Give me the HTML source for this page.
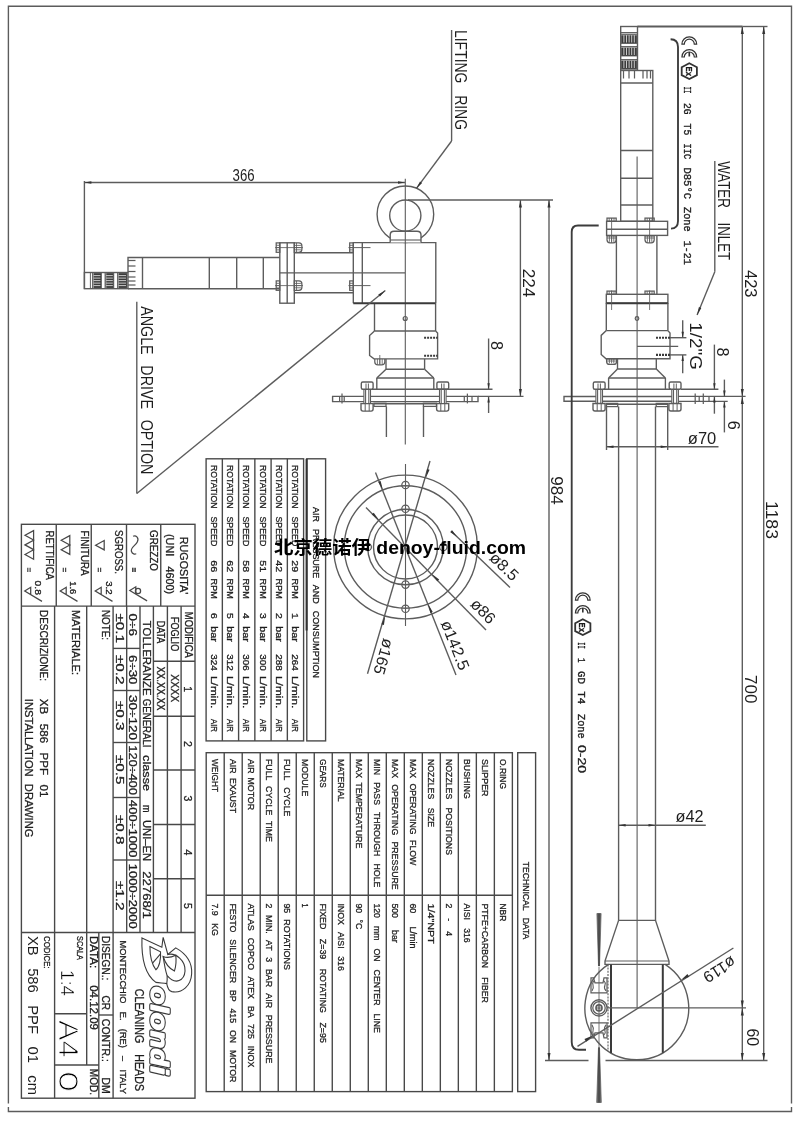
<!DOCTYPE html>
<html><head><meta charset="utf-8"><title>XB 586 PPF 01</title>
<style>
html,body{margin:0;padding:0;background:#fff}
svg{display:block;filter:grayscale(1)}
text{font-family:"Liberation Sans",sans-serif;fill:#1e1e1e;stroke:none}
</style></head><body>
<svg width="800" height="1132" viewBox="0 0 800 1132" fill="none" stroke="#5c5c5c" stroke-width="1.38">
<rect x="0" y="0" width="800" height="1132" fill="#fff" stroke="none"/>
<path d="M8.4 1103.5L8.4 6.2L791.5 6.2L791.5 1103.5"/>
<path d="M8.4 1107L8.4 1111.5L791.5 1111.5L791.5 1107"/>
<path d="M637.5 26.5L742.5 26.5" stroke-width="1.79"/>
<path d="M742.5 26.5L767.5 26.5"/>
<rect x="620.7" y="26.5" width="16.8" height="43.7"/>
<rect x="621.3" y="34" width="15.6" height="9.5" stroke-width="0.83" fill="#3c3c3c"/>
<path d="M623.9 35L623.9 42.5" stroke-width="0.97" stroke="#cdcdcd"/>
<path d="M626.5 35L626.5 42.5" stroke-width="0.97" stroke="#cdcdcd"/>
<path d="M629.1 35L629.1 42.5" stroke-width="0.97" stroke="#cdcdcd"/>
<path d="M631.7 35L631.7 42.5" stroke-width="0.97" stroke="#cdcdcd"/>
<path d="M634.3 35L634.3 42.5" stroke-width="0.97" stroke="#cdcdcd"/>
<path d="M621.3 35L636.9 35" stroke-width="0.69" stroke="#bbb"/>
<rect x="621.3" y="46.5" width="15.6" height="9.5" stroke-width="0.83" fill="#3c3c3c"/>
<path d="M623.9 47.5L623.9 55" stroke-width="0.97" stroke="#cdcdcd"/>
<path d="M626.5 47.5L626.5 55" stroke-width="0.97" stroke="#cdcdcd"/>
<path d="M629.1 47.5L629.1 55" stroke-width="0.97" stroke="#cdcdcd"/>
<path d="M631.7 47.5L631.7 55" stroke-width="0.97" stroke="#cdcdcd"/>
<path d="M634.3 47.5L634.3 55" stroke-width="0.97" stroke="#cdcdcd"/>
<path d="M621.3 47.5L636.9 47.5" stroke-width="0.69" stroke="#bbb"/>
<rect x="621.3" y="59.5" width="15.6" height="9.5" stroke-width="0.83" fill="#3c3c3c"/>
<path d="M623.9 60.5L623.9 68" stroke-width="0.97" stroke="#cdcdcd"/>
<path d="M626.5 60.5L626.5 68" stroke-width="0.97" stroke="#cdcdcd"/>
<path d="M629.1 60.5L629.1 68" stroke-width="0.97" stroke="#cdcdcd"/>
<path d="M631.7 60.5L631.7 68" stroke-width="0.97" stroke="#cdcdcd"/>
<path d="M634.3 60.5L634.3 68" stroke-width="0.97" stroke="#cdcdcd"/>
<path d="M621.3 60.5L636.9 60.5" stroke-width="0.69" stroke="#bbb"/>
<path d="M620.7 32.5L637.5 32.5" stroke-width="0.97"/>
<rect x="620.7" y="70.5" width="32.1" height="150.8"/>
<path d="M620.7 83L652.8 83"/>
<path d="M623.5 70.5L623.5 78.5" stroke-width="1.24"/>
<path d="M629 70.5L629 78.5" stroke-width="1.24"/>
<path d="M634.5 70.5L634.5 78.5" stroke-width="1.24"/>
<path d="M643 70.5L643 78.5" stroke-width="1.24"/>
<path d="M647 70.5L647 78.5" stroke-width="1.24"/>
<path d="M650.5 70.5L650.5 78.5" stroke-width="1.24"/>
<path d="M620.7 150.5L652.8 150.5"/>
<path d="M620.7 178.2L652.8 178.2"/>
<path d="M620.7 205L652.8 205"/>
<path d="M637.1 156.5L637.1 1007.8" stroke-width="1.1"/>
<rect x="606.6" y="221.3" width="61" height="14.1"/>
<path d="M606.6 229.2L667.6 229.2"/>
<rect x="607" y="218.1" width="9.2" height="3.2" stroke-width="1.24"/>
<path d="M609.2 218.1L609.2 221.3" stroke-width="0.83"/>
<path d="M611.6 218.1L611.6 221.3" stroke-width="0.83"/>
<path d="M614 218.1L614 221.3" stroke-width="0.83"/>
<path d="M607 235.8L607 239.8Q607 242.8 610 242.8L613.2 242.8Q616.2 242.8 616.2 239.8L616.2 235.8Z" stroke-width="1.24"/>
<path d="M609.4 235.8L609.4 241.8" stroke-width="0.83"/>
<path d="M611.6 235.8L611.6 241.8" stroke-width="0.83"/>
<path d="M613.8 235.8L613.8 241.8" stroke-width="0.83"/>
<path d="M607 238L616.2 238" stroke-width="0.83"/>
<path d="M611.6 218L611.6 243" stroke-width="0.83"/>
<rect x="645" y="218.1" width="9.2" height="3.2" stroke-width="1.24"/>
<path d="M647.2 218.1L647.2 221.3" stroke-width="0.83"/>
<path d="M649.6 218.1L649.6 221.3" stroke-width="0.83"/>
<path d="M652 218.1L652 221.3" stroke-width="0.83"/>
<path d="M645 235.8L645 239.8Q645 242.8 648 242.8L651.2 242.8Q654.2 242.8 654.2 239.8L654.2 235.8Z" stroke-width="1.24"/>
<path d="M647.4 235.8L647.4 241.8" stroke-width="0.83"/>
<path d="M649.6 235.8L649.6 241.8" stroke-width="0.83"/>
<path d="M651.8 235.8L651.8 241.8" stroke-width="0.83"/>
<path d="M645 238L654.2 238" stroke-width="0.83"/>
<path d="M649.6 218L649.6 243" stroke-width="0.83"/>
<path d="M616.4 235.4L616.4 294.4"/>
<path d="M656.9 235.4L656.9 294.4"/>
<rect x="606.3" y="294.3" width="61.6" height="9"/>
<path d="M606.3 303.3L667.9 303.3" stroke-width="2.07" stroke="#3a3a3a"/>
<rect x="607" y="291.1" width="9.2" height="3.2" stroke-width="1.24"/>
<path d="M609.2 291.1L609.2 294.3" stroke-width="0.83"/>
<path d="M611.6 291.1L611.6 294.3" stroke-width="0.83"/>
<path d="M614 291.1L614 294.3" stroke-width="0.83"/>
<path d="M611.6 290.5L611.6 310" stroke-width="0.83"/>
<rect x="645" y="291.1" width="9.2" height="3.2" stroke-width="1.24"/>
<path d="M647.2 291.1L647.2 294.3" stroke-width="0.83"/>
<path d="M649.6 291.1L649.6 294.3" stroke-width="0.83"/>
<path d="M652 291.1L652 294.3" stroke-width="0.83"/>
<path d="M649.6 290.5L649.6 310" stroke-width="0.83"/>
<path d="M606.3 303.3L606.3 330.6"/>
<path d="M667.9 303.3L667.9 330.6"/>
<path d="M606.3 330.6L667.9 330.6"/>
<circle cx="637" cy="318.5" r="1.8" stroke-width="1.24"/>
<path d="M606.3 330.6L601.2 335.4L601.2 354.5L606 358.8L670 358.8L670 333L667.9 330.6"/>
<path d="M656 337.7L670 337.7" stroke-width="2.07" stroke="#3a3a3a" stroke-dasharray="2 1"/>
<path d="M656 354.9L670 354.9" stroke-width="2.07" stroke="#3a3a3a" stroke-dasharray="2 1"/>
<path d="M670 337.7L686.4 337.7"/>
<path d="M670 354.9L686.4 354.9"/>
<path d="M637 346.4L678.2 346.4"/>
<path d="M682.7 320.2L682.7 337.7"/>
<path d="M682.7 337.7L681.5 331.7L683.9 331.7Z" fill="#333" stroke="none"/>
<path d="M682.7 354.9L682.7 373.2"/>
<path d="M682.7 354.9L683.9 360.9L681.5 360.9Z" fill="#333" stroke="none"/>
<path d="M606.6 358.8L606.6 361.4Q606.6 364.4 609.6 364.4L613.6 364.4Q616.6 364.4 616.6 361.4L616.6 358.8Z" stroke-width="1.24"/>
<path d="M609.4 358.8L609.4 363.4" stroke-width="0.83"/>
<path d="M611.6 358.8L611.6 363.4" stroke-width="0.83"/>
<path d="M613.8 358.8L613.8 363.4" stroke-width="0.83"/>
<path d="M606.6 361L616.6 361" stroke-width="0.83"/>
<path d="M617.5 358.8L617.5 369"/>
<path d="M656.3 358.8L656.3 369"/>
<path d="M617.5 369L656.3 369"/>
<path d="M617.5 369L608.6 378"/>
<path d="M656.3 369L665.4 378"/>
<path d="M608.6 378L665.4 378"/>
<path d="M608.6 378L608.6 389.2"/>
<path d="M665.4 378L665.4 389.2"/>
<path d="M603.5 389.2L671 389.2"/>
<path d="M602.5 396.5L671.8 396.5"/>
<path d="M595.9 396.5L564 396.5L564 401.3L595.9 401.3"/>
<path d="M602.5 401.3L671.8 401.3"/>
<path d="M678.4 396.4L745.6 396.4"/>
<path d="M678.4 401.4L727.7 401.4"/>
<path d="M681 389.3L718.4 389.3"/>
<path d="M695.2 393.5L695.2 404" stroke-width="1.24"/>
<path d="M699.2 396.4L699.2 401.4" stroke-width="1.24"/>
<path d="M703.3 393.5L703.3 404" stroke-width="1.24"/>
<path d="M709 396.4L709 401.4" stroke-width="1.24"/>
<rect x="593.3" y="382" width="11.8" height="7.2" rx="1.5"/>
<path d="M595.9 389.2L595.9 403.5" stroke-width="1.1"/>
<path d="M597.6 389.2L597.6 403.5" stroke-width="1.1"/>
<path d="M600.8 389.2L600.8 403.5" stroke-width="1.1"/>
<path d="M602.5 389.2L602.5 403.5" stroke-width="1.1"/>
<path d="M598 383.5L598 389.2" stroke-width="0.97"/>
<path d="M600.4 383.5L600.4 389.2" stroke-width="0.97"/>
<path d="M593 403.5L605.1 403.5L605.1 409Q605.1 411 603.1 411L595 411Q593 411 593 409Z"/>
<path d="M597.2 403.5L597.2 411" stroke-width="0.97"/>
<path d="M601.2 403.5L601.2 411" stroke-width="0.97"/>
<rect x="669.2" y="382" width="11.8" height="7.2" rx="1.5"/>
<path d="M671.8 389.2L671.8 403.5" stroke-width="1.1"/>
<path d="M673.5 389.2L673.5 403.5" stroke-width="1.1"/>
<path d="M676.7 389.2L676.7 403.5" stroke-width="1.1"/>
<path d="M678.4 389.2L678.4 403.5" stroke-width="1.1"/>
<path d="M673.9 383.5L673.9 389.2" stroke-width="0.97"/>
<path d="M676.3 383.5L676.3 389.2" stroke-width="0.97"/>
<path d="M668.9 403.5L681 403.5L681 409Q681 411 679 411L670.9 411Q668.9 411 668.9 409Z"/>
<path d="M673.1 403.5L673.1 411" stroke-width="0.97"/>
<path d="M677.1 403.5L677.1 411" stroke-width="0.97"/>
<path d="M606.5 404.2L668 404.2"/>
<rect x="606.5" y="403.4" width="11.2" height="3.2" stroke-width="1.24"/>
<rect x="656.2" y="403.4" width="11.5" height="3.2" stroke-width="1.24"/>
<path d="M618.6 406.6L618.6 920.4"/>
<path d="M655.5 406.6L655.5 920.4"/>
<path d="M606.5 406.6L606.5 450"/>
<path d="M667.7 406.6L667.7 450"/>
<path d="M606.5 446.8L718.5 446.8"/>
<path d="M606.5 446.8L613.5 445.6L613.5 448Z" fill="#333" stroke="none"/>
<path d="M667.7 446.8L660.7 448L660.7 445.6Z" fill="#333" stroke="none"/>
<text x="687.8" y="443.8" font-size="16.2" textLength="28.5" lengthAdjust="spacingAndGlyphs">ø70</text>
<path d="M618.6 825.3L705.8 825.3"/>
<path d="M618.6 825.3L625.6 824.1L625.6 826.5Z" fill="#333" stroke="none"/>
<path d="M655.5 825.3L648.5 826.5L648.5 824.1Z" fill="#333" stroke="none"/>
<text x="675.6" y="822.4" font-size="16" textLength="28" lengthAdjust="spacingAndGlyphs">ø42</text>
<path d="M618.6 920.4L605 961L605 964.4L669 964.4L669 961L655.5 920.4L618.6 920.4"/>
<path d="M605 961L669 961" stroke-width="1.24"/>
<path d="M608.49 964.4A51.9 51.9 0 1 0 665.11 964.4"/>
<path d="M611 964.4L611 1052.93" stroke-width="2" stroke="#3a3a3a"/>
<path d="M662.8 964.4L662.8 1052.82" stroke-width="2" stroke="#3a3a3a"/>
<path d="M608 964.4L608 1051.08" stroke-width="1.1" stroke-dasharray="2 1.2"/>
<path d="M607 1007.9L746 1007.9"/>
<circle cx="599" cy="1007.9" r="8.1"/>
<circle cx="599" cy="1007.9" r="6.2" stroke-width="1.24"/>
<circle cx="599" cy="1007.9" r="3" stroke-width="1.66"/>
<circle cx="599" cy="1007.9" r="1.1" stroke-width="1.1"/>
<path d="M599 967L599 1047" stroke-width="0.83"/>
<path d="M591 992.9L607 992.9L607 977.9L604 977.9L603 982.9L601.5 982.9L596.5 982.9L595 982.9L593.5 977.9L591 977.9Z" stroke-width="1.24"/>
<path d="M592 990.9Q594 987.9 593 984.9Q592 982.9 594 980.9" stroke-width="1.1"/>
<path d="M606 990.9Q603.5 987.9 605 984.9Q606 982.9 604 980.9" stroke-width="1.1"/>
<path d="M591 1022.9L607 1022.9L607 1037.9L604 1037.9L603 1032.9L601.5 1032.9L596.5 1032.9L595 1032.9L593.5 1037.9L591 1037.9Z" stroke-width="1.24"/>
<path d="M592 1024.9Q594 1027.9 593 1030.9Q592 1032.9 594 1034.9" stroke-width="1.1"/>
<path d="M606 1024.9Q603.5 1027.9 605 1030.9Q606 1032.9 604 1034.9" stroke-width="1.1"/>
<path d="M596.9 913.5L601.1 913.5L599.5 966L598.5 966Z" stroke-width="0.69" fill="#6a6a6a" stroke="#555"/>
<path d="M599 913.5L599 966" stroke-width="0.97" stroke="#333"/>
<path d="M598.5 1047.5L599.5 1047.5L601.3 1102.5L596.7 1102.5Z" stroke-width="0.69" fill="#6a6a6a" stroke="#555"/>
<path d="M599 1047.5L599 1102.5" stroke-width="0.97" stroke="#333"/>
<path d="M577.5 1046.4L733.4 948"/>
<path d="M680.69 980.2L687.45 974.04L689.15 976.75Z" fill="#333" stroke="none"/>
<path d="M592.91 1035.6L586.15 1041.76L584.45 1039.05Z" fill="#333" stroke="none"/>
<text transform="translate(731.5 955.5) rotate(147.74)" font-size="16" textLength="35" lengthAdjust="spacingAndGlyphs">ø119</text>
<path d="M670.6 39.3Q678 39.5 678 47L678 221Q678 228.5 671 228.6" stroke-width="1.86" stroke="#3c3c3c"/>
<path d="M598.7 225.5L578 225.5Q571.7 225.5 571.7 232L571.7 1042Q571.7 1049.8 579 1049.8L586 1049.8" stroke-width="1.86" stroke="#3c3c3c"/>
<path d="M545 1060.5L588.5 1060.5"/>
<path d="M605.5 1060.5L767.5 1060.5"/>
<path d="M742.3 26.5L742.3 1060.5"/>
<path d="M763.7 26.5L763.7 1060.5"/>
<path d="M742.3 26.5L743.8 34L740.8 34Z" fill="#333" stroke="none"/>
<path d="M763.7 26.5L765.2 34L762.2 34Z" fill="#333" stroke="none"/>
<path d="M742.3 396.4L740.8 388.9L743.8 388.9Z" fill="#333" stroke="none"/>
<path d="M742.3 396.4L743.8 403.9L740.8 403.9Z" fill="#333" stroke="none"/>
<path d="M742.3 1007.9L740.8 1000.4L743.8 1000.4Z" fill="#333" stroke="none"/>
<path d="M742.3 1007.9L743.8 1015.4L740.8 1015.4Z" fill="#333" stroke="none"/>
<path d="M742.3 1060.5L740.8 1053L743.8 1053Z" fill="#333" stroke="none"/>
<path d="M763.7 1060.5L762.2 1053L765.2 1053Z" fill="#333" stroke="none"/>
<text transform="translate(745.3 270) rotate(90)" font-size="16.2" textLength="27.5" lengthAdjust="spacingAndGlyphs">423</text>
<text transform="translate(766.4 501) rotate(90)" font-size="16.2" textLength="38" lengthAdjust="spacingAndGlyphs">1183</text>
<text transform="translate(745.3 675) rotate(90)" font-size="16.2" textLength="28.4" lengthAdjust="spacingAndGlyphs">700</text>
<text transform="translate(746.6 1028.6) rotate(90)" font-size="16.2" textLength="17.5" lengthAdjust="spacingAndGlyphs">60</text>
<path d="M714.4 344.6L714.4 389.3"/>
<path d="M714.4 389.3L713.2 383.3L715.6 383.3Z" fill="#333" stroke="none"/>
<path d="M714.4 396.4L714.4 413.7"/>
<path d="M714.4 396.4L715.6 402.4L713.2 402.4Z" fill="#333" stroke="none"/>
<text transform="translate(717 347.5) rotate(90)" font-size="16.2" textLength="9" lengthAdjust="spacingAndGlyphs">8</text>
<path d="M724.4 379.6L724.4 396.4"/>
<path d="M724.4 396.4L723.2 390.4L725.6 390.4Z" fill="#333" stroke="none"/>
<path d="M724.4 401.4L724.4 432.4"/>
<path d="M724.4 401.4L725.6 407.4L723.2 407.4Z" fill="#333" stroke="none"/>
<text transform="translate(727.8 420.8) rotate(90)" font-size="16.2" textLength="9" lengthAdjust="spacingAndGlyphs">6</text>
<text transform="translate(690 322.3) rotate(90)" font-size="16" textLength="47.5" lengthAdjust="spacingAndGlyphs">1/2"G</text>
<path d="M714.8 161L714.8 271.7"/>
<path d="M714.8 271.7L697.1 315"/>
<path d="M697.1 315L698.92 307.1L701.33 308.09Z" fill="#333" stroke="none"/>
<text transform="translate(718 161.2) rotate(90)" font-size="16.4" word-spacing="13.5" textLength="99" lengthAdjust="spacingAndGlyphs">WATER INLET</text>
<path d="M681.9 44.2A7.4 7.4 0 0 1 696.7 44.2L694.3 44.2A5 5 0 0 0 684.3 44.2Z" stroke-width="1.17" fill="#fff" stroke="#333"/>
<path d="M681.9 57A7.4 7.4 0 0 1 696.7 57L694.3 57A5 5 0 0 0 684.3 57Z" stroke-width="1.17" fill="#fff" stroke="#333"/>
<path d="M689.3 52L689.3 56.5" stroke-width="1.66" stroke="#333"/>
<path d="M689.3 63.3L696.9 67.25L696.9 75.15L689.3 79.1L681.7 75.15L681.7 67.25Z" stroke-width="1.79" stroke="#333"/>
<text transform="translate(685.7 66.6) rotate(90)" font-size="8.6" textLength="9.4" lengthAdjust="spacingAndGlyphs" font-weight="bold" style="stroke:#1e1e1e;stroke-width:0.3px">Ex</text>
<text transform="translate(684.3 86.5) rotate(90)" font-size="10.6" textLength="6.9" lengthAdjust="spacingAndGlyphs" style="font-family:'Liberation Mono',monospace;stroke:#1e1e1e;stroke-width:0.35px">II</text>
<text transform="translate(684.3 103) rotate(90)" font-size="10.6" textLength="11.6" lengthAdjust="spacingAndGlyphs" style="font-family:'Liberation Mono',monospace;stroke:#1e1e1e;stroke-width:0.35px">2G</text>
<text transform="translate(684.3 123.6) rotate(90)" font-size="10.6" textLength="11.6" lengthAdjust="spacingAndGlyphs" style="font-family:'Liberation Mono',monospace;stroke:#1e1e1e;stroke-width:0.35px">T5</text>
<text transform="translate(684.3 143.5) rotate(90)" font-size="10.6" textLength="15.9" lengthAdjust="spacingAndGlyphs" style="font-family:'Liberation Mono',monospace;stroke:#1e1e1e;stroke-width:0.35px">IIC</text>
<text transform="translate(684.3 167.4) rotate(90)" font-size="10.6" textLength="31.8" lengthAdjust="spacingAndGlyphs" style="font-family:'Liberation Mono',monospace;stroke:#1e1e1e;stroke-width:0.35px">D85°C</text>
<text transform="translate(684.3 207) rotate(90)" font-size="10.6" textLength="24.7" lengthAdjust="spacingAndGlyphs" style="font-family:'Liberation Mono',monospace;stroke:#1e1e1e;stroke-width:0.35px">Zone</text>
<text transform="translate(684.3 240.8) rotate(90)" font-size="10.6" textLength="23.8" lengthAdjust="spacingAndGlyphs" style="font-family:'Liberation Mono',monospace;stroke:#1e1e1e;stroke-width:0.35px">1-21</text>
<path d="M575.4 600.2A7.4 7.4 0 0 1 590.2 600.2L587.8 600.2A5 5 0 0 0 577.8 600.2Z" stroke-width="1.17" fill="#fff" stroke="#333"/>
<path d="M575.4 613A7.4 7.4 0 0 1 590.2 613L587.8 613A5 5 0 0 0 577.8 613Z" stroke-width="1.17" fill="#fff" stroke="#333"/>
<path d="M582.8 608L582.8 612.5" stroke-width="1.66" stroke="#333"/>
<path d="M582.8 619.3L590.4 623.25L590.4 631.15L582.8 635.1L575.2 631.15L575.2 623.25Z" stroke-width="1.79" stroke="#333"/>
<text transform="translate(579.2 622.6) rotate(90)" font-size="8.6" textLength="9.4" lengthAdjust="spacingAndGlyphs" font-weight="bold" style="stroke:#1e1e1e;stroke-width:0.3px">Ex</text>
<text transform="translate(577.7 642.2) rotate(90)" font-size="10.6" textLength="6.4" lengthAdjust="spacingAndGlyphs" style="font-family:'Liberation Mono',monospace;stroke:#1e1e1e;stroke-width:0.35px">II</text>
<text transform="translate(577.7 658) rotate(90)" font-size="10.6" textLength="4.6" lengthAdjust="spacingAndGlyphs" style="font-family:'Liberation Mono',monospace;stroke:#1e1e1e;stroke-width:0.35px">1</text>
<text transform="translate(577.7 671) rotate(90)" font-size="10.6" textLength="13" lengthAdjust="spacingAndGlyphs" style="font-family:'Liberation Mono',monospace;stroke:#1e1e1e;stroke-width:0.35px">GD</text>
<text transform="translate(577.7 691.3) rotate(90)" font-size="10.6" textLength="13" lengthAdjust="spacingAndGlyphs" style="font-family:'Liberation Mono',monospace;stroke:#1e1e1e;stroke-width:0.35px">T4</text>
<text transform="translate(577.7 714) rotate(90)" font-size="10.6" textLength="24.6" lengthAdjust="spacingAndGlyphs" style="font-family:'Liberation Mono',monospace;stroke:#1e1e1e;stroke-width:0.35px">Zone</text>
<text transform="translate(577.7 745) rotate(90)" font-size="10.4" textLength="28" lengthAdjust="spacingAndGlyphs" style="font-family:'Liberation Sans',sans-serif;stroke:#1e1e1e;stroke-width:0.3px">0-20</text>
<path d="M84.4 181L84.4 289"/>
<path d="M84.4 182.5L405 182.5"/>
<path d="M84.4 182.5L91.4 181.3L91.4 183.7Z" fill="#333" stroke="none"/>
<path d="M405 182.5L398 183.7L398 181.3Z" fill="#333" stroke="none"/>
<text x="232.6" y="181" font-size="16" textLength="22" lengthAdjust="spacingAndGlyphs">366</text>
<rect x="84.4" y="272.5" width="43.6" height="16.2"/>
<rect x="92.4" y="273.1" width="9" height="15" stroke-width="0.83" fill="#3c3c3c"/>
<path d="M93.4 275.6L100.4 275.6" stroke-width="0.97" stroke="#cdcdcd"/>
<path d="M93.4 278.1L100.4 278.1" stroke-width="0.97" stroke="#cdcdcd"/>
<path d="M93.4 280.6L100.4 280.6" stroke-width="0.97" stroke="#cdcdcd"/>
<path d="M93.4 283.1L100.4 283.1" stroke-width="0.97" stroke="#cdcdcd"/>
<path d="M93.4 285.6L100.4 285.6" stroke-width="0.97" stroke="#cdcdcd"/>
<path d="M93.4 273.1L93.4 288.1" stroke-width="0.69" stroke="#bbb"/>
<rect x="105" y="273.1" width="8.8" height="15" stroke-width="0.83" fill="#3c3c3c"/>
<path d="M106 275.6L112.8 275.6" stroke-width="0.97" stroke="#cdcdcd"/>
<path d="M106 278.1L112.8 278.1" stroke-width="0.97" stroke="#cdcdcd"/>
<path d="M106 280.6L112.8 280.6" stroke-width="0.97" stroke="#cdcdcd"/>
<path d="M106 283.1L112.8 283.1" stroke-width="0.97" stroke="#cdcdcd"/>
<path d="M106 285.6L112.8 285.6" stroke-width="0.97" stroke="#cdcdcd"/>
<path d="M106 273.1L106 288.1" stroke-width="0.69" stroke="#bbb"/>
<rect x="117.4" y="273.1" width="9.6" height="15" stroke-width="0.83" fill="#3c3c3c"/>
<path d="M118.4 275.6L126 275.6" stroke-width="0.97" stroke="#cdcdcd"/>
<path d="M118.4 278.1L126 278.1" stroke-width="0.97" stroke="#cdcdcd"/>
<path d="M118.4 280.6L126 280.6" stroke-width="0.97" stroke="#cdcdcd"/>
<path d="M118.4 283.1L126 283.1" stroke-width="0.97" stroke="#cdcdcd"/>
<path d="M118.4 285.6L126 285.6" stroke-width="0.97" stroke="#cdcdcd"/>
<path d="M118.4 273.1L118.4 288.1" stroke-width="0.69" stroke="#bbb"/>
<path d="M90.4 272.5L90.4 288.7" stroke-width="0.97"/>
<path d="M128 272.5L128 257.5L279.8 257.5"/>
<path d="M128 288.7L279.8 288.7"/>
<path d="M142.5 257.5L142.5 288.7"/>
<path d="M128 260.5L135.5 260.5" stroke-width="1.24"/>
<path d="M128 266L135.5 266" stroke-width="1.24"/>
<path d="M128 271.5L135.5 271.5" stroke-width="1.24"/>
<path d="M128 277L135.5 277" stroke-width="1.24"/>
<path d="M128 281L135.5 281" stroke-width="1.24"/>
<path d="M128 285L135.5 285" stroke-width="1.24"/>
<path d="M209.3 257.5L209.3 288.7"/>
<path d="M236.7 257.5L236.7 288.7"/>
<path d="M263.3 257.5L263.3 288.7"/>
<rect x="279.8" y="242.8" width="14.5" height="60.4"/>
<path d="M287.2 242.8L287.2 303.2"/>
<rect x="276.2" y="242.9" width="3.6" height="9.4" stroke-width="1.24"/>
<path d="M279.8 245.3L276.2 245.3" stroke-width="0.83"/>
<path d="M279.8 247.6L276.2 247.6" stroke-width="0.83"/>
<path d="M279.8 249.9L276.2 249.9" stroke-width="0.83"/>
<path d="M294.3 242.9L298.9 242.9Q301.9 242.9 301.9 245.9L301.9 249.3Q301.9 252.3 298.9 252.3L294.3 252.3Z" stroke-width="1.24"/>
<path d="M294.3 245.4L300.9 245.4" stroke-width="0.83"/>
<path d="M294.3 247.6L300.9 247.6" stroke-width="0.83"/>
<path d="M294.3 249.8L300.9 249.8" stroke-width="0.83"/>
<path d="M296.5 242.9L296.5 252.3" stroke-width="0.83"/>
<path d="M275 247.6L303 247.6" stroke-width="0.83"/>
<rect x="276.2" y="280.9" width="3.6" height="9.4" stroke-width="1.24"/>
<path d="M279.8 283.3L276.2 283.3" stroke-width="0.83"/>
<path d="M279.8 285.6L276.2 285.6" stroke-width="0.83"/>
<path d="M279.8 287.9L276.2 287.9" stroke-width="0.83"/>
<path d="M294.3 280.9L298.9 280.9Q301.9 280.9 301.9 283.9L301.9 287.3Q301.9 290.3 298.9 290.3L294.3 290.3Z" stroke-width="1.24"/>
<path d="M294.3 283.4L300.9 283.4" stroke-width="0.83"/>
<path d="M294.3 285.6L300.9 285.6" stroke-width="0.83"/>
<path d="M294.3 287.8L300.9 287.8" stroke-width="0.83"/>
<path d="M296.5 280.9L296.5 290.3" stroke-width="0.83"/>
<path d="M275 285.6L303 285.6" stroke-width="0.83"/>
<path d="M294.3 252.7L353.3 252.7"/>
<path d="M294.3 292.7L353.3 292.7"/>
<path d="M279.8 272.9L405 272.9"/>
<path d="M353.3 303.3L353.3 242.6L435.8 242.6L435.8 303.3"/>
<path d="M362.3 242.6L362.3 303.3"/>
<rect x="349.7" y="242.9" width="3.6" height="9.4" stroke-width="1.24"/>
<path d="M353.3 245.3L349.7 245.3" stroke-width="0.83"/>
<path d="M353.3 247.6L349.7 247.6" stroke-width="0.83"/>
<path d="M353.3 249.9L349.7 249.9" stroke-width="0.83"/>
<path d="M348.5 247.6L370.5 247.6" stroke-width="0.97"/>
<rect x="349.7" y="280.9" width="3.6" height="9.4" stroke-width="1.24"/>
<path d="M353.3 283.3L349.7 283.3" stroke-width="0.83"/>
<path d="M353.3 285.6L349.7 285.6" stroke-width="0.83"/>
<path d="M353.3 287.9L349.7 287.9" stroke-width="0.83"/>
<path d="M348.5 285.6L370.5 285.6" stroke-width="0.97"/>
<circle cx="405.4" cy="214.3" r="28.3"/>
<circle cx="405.3" cy="215.6" r="15.6"/>
<path d="M390.2 242.6L390.2 235Q390.2 231.3 394 231.3L417 231.3Q421 231.3 421 235L421 242.6" fill="#fff"/>
<path d="M390.2 240L421 240" stroke-width="1.1"/>
<path d="M405.3 178.7L405.3 444.5" stroke-width="1.1"/>
<path d="M408 200L553 200"/>
<path d="M374.5 303.3L374.5 331"/>
<path d="M435.6 303.3L435.6 331"/>
<path d="M353.3 303.3L435.6 303.3" stroke-width="2.07" stroke="#3a3a3a"/>
<circle cx="405.2" cy="318.5" r="2" stroke-width="1.24"/>
<path d="M374.5 331L435.6 331"/>
<path d="M374.5 331L369.6 335.5L369.6 355.5L374 358.9L437.6 358.9L437.6 333L435.6 331"/>
<path d="M424.1 337.8L437.6 337.8" stroke-width="2.07" stroke="#3a3a3a" stroke-dasharray="2 1"/>
<path d="M424.1 355.7L437.6 355.7" stroke-width="2.07" stroke="#3a3a3a" stroke-dasharray="2 1"/>
<path d="M374.8 358.9L374.8 362Q374.8 364.8 378 364.8L381.6 364.8Q384.8 364.8 384.8 362L384.8 358.9" stroke-width="1.24"/>
<path d="M377.4 358.9L377.4 364.2" stroke-width="0.83"/>
<path d="M379.8 358.9L379.8 364.2" stroke-width="0.83"/>
<path d="M382.2 358.9L382.2 364.2" stroke-width="0.83"/>
<path d="M379.8 355L379.8 364.8" stroke-width="0.83"/>
<path d="M386 358.9L386 369.2"/>
<path d="M424.6 358.9L424.6 369.2"/>
<path d="M386 369.2L424.6 369.2"/>
<path d="M386 369.2L376.8 378"/>
<path d="M424.6 369.2L433.8 378"/>
<path d="M376.8 378L433.8 378"/>
<path d="M376.8 378L376.8 389.3"/>
<path d="M433.8 378L433.8 389.3"/>
<path d="M372 389.3L492.5 389.3"/>
<path d="M370.5 396.4L439.5 396.4"/>
<path d="M363.9 396.4L332.6 396.4L332.6 401.6L363.9 401.6"/>
<path d="M446.1 396.4L478 396.4L478 401.6L446.1 401.6"/>
<path d="M478 396.4L523.5 396.4"/>
<path d="M370.5 401.6L439.5 401.6"/>
<path d="M339.6 396.4L339.6 401.6" stroke-width="1.24"/>
<path d="M342 393.6L342 403.4" stroke-width="1.24"/>
<path d="M344.2 396.4L344.2 401.6" stroke-width="1.24"/>
<path d="M464.3 396.4L464.3 401.6" stroke-width="1.24"/>
<path d="M467.4 393.6L467.4 403.4" stroke-width="1.24"/>
<path d="M472 396.4L472 401.6" stroke-width="1.24"/>
<rect x="361.3" y="382" width="11.8" height="7.2" rx="1.5"/>
<path d="M363.9 389.2L363.9 403.6" stroke-width="1.1"/>
<path d="M365.6 389.2L365.6 403.6" stroke-width="1.1"/>
<path d="M368.8 389.2L368.8 403.6" stroke-width="1.1"/>
<path d="M370.5 389.2L370.5 403.6" stroke-width="1.1"/>
<path d="M366 383.5L366 389.2" stroke-width="0.97"/>
<path d="M368.4 383.5L368.4 389.2" stroke-width="0.97"/>
<path d="M361 403.6L373.1 403.6L373.1 409.1Q373.1 411.1 371.1 411.1L363 411.1Q361 411.1 361 409.1Z"/>
<path d="M365.2 403.6L365.2 411.1" stroke-width="0.97"/>
<path d="M369.2 403.6L369.2 411.1" stroke-width="0.97"/>
<rect x="436.9" y="382" width="11.8" height="7.2" rx="1.5"/>
<path d="M439.5 389.2L439.5 403.6" stroke-width="1.1"/>
<path d="M441.2 389.2L441.2 403.6" stroke-width="1.1"/>
<path d="M444.4 389.2L444.4 403.6" stroke-width="1.1"/>
<path d="M446.1 389.2L446.1 403.6" stroke-width="1.1"/>
<path d="M441.6 383.5L441.6 389.2" stroke-width="0.97"/>
<path d="M444 383.5L444 389.2" stroke-width="0.97"/>
<path d="M436.6 403.6L448.7 403.6L448.7 409.1Q448.7 411.1 446.7 411.1L438.6 411.1Q436.6 411.1 436.6 409.1Z"/>
<path d="M440.8 403.6L440.8 411.1" stroke-width="0.97"/>
<path d="M444.8 403.6L444.8 411.1" stroke-width="0.97"/>
<path d="M374 403.8L436.5 403.8"/>
<rect x="374" y="403.2" width="12" height="3.2" stroke-width="1.24"/>
<rect x="423.4" y="403.2" width="13.1" height="3.2" stroke-width="1.24"/>
<path d="M386.4 406.4L386.4 437"/>
<path d="M423.5 406.4L423.5 437"/>
<path d="M488.6 338.5L488.6 389.3"/>
<path d="M488.6 389.3L487.4 383.3L489.8 383.3Z" fill="#333" stroke="none"/>
<path d="M488.6 396.4L488.6 413"/>
<path d="M488.6 396.4L489.8 402.4L487.4 402.4Z" fill="#333" stroke="none"/>
<text transform="translate(491 341) rotate(90)" font-size="16.2" textLength="9" lengthAdjust="spacingAndGlyphs">8</text>
<path d="M520.4 200L520.4 396.4"/>
<path d="M520.4 200L521.9 207.5L518.9 207.5Z" fill="#333" stroke="none"/>
<path d="M520.4 396.4L518.9 388.9L521.9 388.9Z" fill="#333" stroke="none"/>
<path d="M549 200L549 1060.5"/>
<path d="M549 200L550.5 207.5L547.5 207.5Z" fill="#333" stroke="none"/>
<path d="M549 1060.5L547.5 1053L550.5 1053Z" fill="#333" stroke="none"/>
<text transform="translate(523.2 268.7) rotate(90)" font-size="16.2" textLength="28.6" lengthAdjust="spacingAndGlyphs">224</text>
<text transform="translate(551.2 476.2) rotate(90)" font-size="16.2" textLength="28.4" lengthAdjust="spacingAndGlyphs">984</text>
<path d="M451.6 30L451.6 141"/>
<path d="M451.6 141L416.3 188.6"/>
<path d="M416.3 188.6L420.02 181.4L422.11 182.95Z" fill="#333" stroke="none"/>
<text transform="translate(454.6 30) rotate(90)" font-size="16.2" word-spacing="9.18" textLength="100" lengthAdjust="spacingAndGlyphs">LIFTING RING</text>
<path d="M136.8 301.7L136.8 493.5"/>
<path d="M136.8 493.5L385.3 290.5"/>
<path d="M385.3 290.5L379.93 296.57L378.28 294.55Z" fill="#333" stroke="none"/>
<text transform="translate(141.3 306.3) rotate(90)" font-size="16.2" word-spacing="7.69" textLength="168" lengthAdjust="spacingAndGlyphs">ANGLE DRIVE OPTION</text>
<circle cx="405.5" cy="547" r="71.9"/>
<circle cx="405.5" cy="547" r="61.2"/>
<circle cx="405.5" cy="547" r="37.8"/>
<circle cx="405.5" cy="547" r="32"/>
<path d="M405.5 464L405.5 626" stroke-width="1.1"/>
<circle cx="405.5" cy="485" r="3.7" stroke-width="1.24"/>
<circle cx="405.5" cy="508.8" r="3.7" stroke-width="1.24"/>
<circle cx="405.5" cy="584.6" r="3.7" stroke-width="1.24"/>
<circle cx="405.5" cy="608.8" r="3.7" stroke-width="1.24"/>
<circle cx="367.7" cy="547" r="3.7" stroke-width="1.24"/>
<circle cx="443.3" cy="547" r="3.7" stroke-width="1.24"/>
<path d="M430 461L367.5 673.7"/>
<path d="M425.77 478.02L427.06 469.02L429.55 469.75Z" fill="#333" stroke="none"/>
<path d="M385.23 615.98L383.94 624.98L381.45 624.25Z" fill="#333" stroke="none"/>
<text transform="translate(383.5 637.5) rotate(106.37)" font-size="16" textLength="36.5" lengthAdjust="spacingAndGlyphs">ø165</text>
<path d="M375.5 472.5L456 675"/>
<path d="M382.78 489.85L378.25 481.97L380.66 481.01Z" fill="#333" stroke="none"/>
<path d="M428.22 604.15L432.75 612.03L430.34 612.99Z" fill="#333" stroke="none"/>
<text transform="translate(440.5 623) rotate(68.32)" font-size="16" textLength="52" lengthAdjust="spacingAndGlyphs">ø142.5</text>
<path d="M366 507.5L486 630"/>
<path d="M379.05 520L371.82 514.48L373.68 512.66Z" fill="#333" stroke="none"/>
<path d="M431.95 574L439.18 579.52L437.32 581.34Z" fill="#333" stroke="none"/>
<text transform="translate(469.5 605) rotate(45.59)" font-size="16" textLength="28" lengthAdjust="spacingAndGlyphs">ø86</text>
<path d="M451 531L510 587.5"/>
<path d="M457 536.8L450.32 532.21L452.12 530.33Z" fill="#333" stroke="none"/>
<text transform="translate(488.5 559) rotate(43.76)" font-size="16" textLength="33" lengthAdjust="spacingAndGlyphs">ø8.5</text>
<g stroke="#484848">
<rect x="206.1" y="458.8" width="97.5" height="282.1"/>
<path d="M222.35 458.8L222.35 740.9"/>
<path d="M238.6 458.8L238.6 740.9"/>
<path d="M254.85 458.8L254.85 740.9"/>
<path d="M271.1 458.8L271.1 740.9"/>
<path d="M287.35 458.8L287.35 740.9"/>
<rect x="306.8" y="458.8" width="18.8" height="282.1"/>
<path d="M306.6 458.8L306.6 630.5" stroke-width="2.07" stroke="#333"/>
<text transform="translate(312.7 507) rotate(90)" font-size="9.6" word-spacing="4.93" textLength="171" lengthAdjust="spacingAndGlyphs" style="stroke:#1e1e1e;stroke-width:0.3px">AIR PRESSURE AND CONSUMPTION</text>
<text transform="translate(210.8 464.9) rotate(90)" font-size="9.8" textLength="43.7" lengthAdjust="spacingAndGlyphs" style="stroke:#1e1e1e;stroke-width:0.3px">ROTATION</text>
<text transform="translate(210.8 516.5) rotate(90)" font-size="9.8" textLength="29.8" lengthAdjust="spacingAndGlyphs" style="stroke:#1e1e1e;stroke-width:0.3px">SPEED</text>
<text transform="translate(210.8 560.3) rotate(90)" font-size="9.8" textLength="12" lengthAdjust="spacingAndGlyphs" style="stroke:#1e1e1e;stroke-width:0.3px">66</text>
<text transform="translate(210.8 578.6) rotate(90)" font-size="9.8" textLength="20.2" lengthAdjust="spacingAndGlyphs" style="stroke:#1e1e1e;stroke-width:0.3px">RPM</text>
<text transform="translate(210.8 613) rotate(90)" font-size="9.8" textLength="5.8" lengthAdjust="spacingAndGlyphs" style="stroke:#1e1e1e;stroke-width:0.3px">6</text>
<text transform="translate(210.8 626.3) rotate(90)" font-size="9.8" textLength="15.7" lengthAdjust="spacingAndGlyphs" style="stroke:#1e1e1e;stroke-width:0.3px">bar</text>
<text transform="translate(210.8 654.3) rotate(90)" font-size="9.8" textLength="16.5" lengthAdjust="spacingAndGlyphs" style="stroke:#1e1e1e;stroke-width:0.3px">324</text>
<text transform="translate(210.8 676) rotate(90)" font-size="9.8" textLength="32.4" lengthAdjust="spacingAndGlyphs" style="stroke:#1e1e1e;stroke-width:0.3px">L/min.</text>
<text transform="translate(210.8 719) rotate(90)" font-size="9.8" textLength="13" lengthAdjust="spacingAndGlyphs" style="stroke:#1e1e1e;stroke-width:0.3px">AIR</text>
<text transform="translate(227.05 464.9) rotate(90)" font-size="9.8" textLength="43.7" lengthAdjust="spacingAndGlyphs" style="stroke:#1e1e1e;stroke-width:0.3px">ROTATION</text>
<text transform="translate(227.05 516.5) rotate(90)" font-size="9.8" textLength="29.8" lengthAdjust="spacingAndGlyphs" style="stroke:#1e1e1e;stroke-width:0.3px">SPEED</text>
<text transform="translate(227.05 560.3) rotate(90)" font-size="9.8" textLength="12" lengthAdjust="spacingAndGlyphs" style="stroke:#1e1e1e;stroke-width:0.3px">62</text>
<text transform="translate(227.05 578.6) rotate(90)" font-size="9.8" textLength="20.2" lengthAdjust="spacingAndGlyphs" style="stroke:#1e1e1e;stroke-width:0.3px">RPM</text>
<text transform="translate(227.05 613) rotate(90)" font-size="9.8" textLength="5.8" lengthAdjust="spacingAndGlyphs" style="stroke:#1e1e1e;stroke-width:0.3px">5</text>
<text transform="translate(227.05 626.3) rotate(90)" font-size="9.8" textLength="15.7" lengthAdjust="spacingAndGlyphs" style="stroke:#1e1e1e;stroke-width:0.3px">bar</text>
<text transform="translate(227.05 654.3) rotate(90)" font-size="9.8" textLength="16.5" lengthAdjust="spacingAndGlyphs" style="stroke:#1e1e1e;stroke-width:0.3px">312</text>
<text transform="translate(227.05 676) rotate(90)" font-size="9.8" textLength="32.4" lengthAdjust="spacingAndGlyphs" style="stroke:#1e1e1e;stroke-width:0.3px">L/min.</text>
<text transform="translate(227.05 719) rotate(90)" font-size="9.8" textLength="13" lengthAdjust="spacingAndGlyphs" style="stroke:#1e1e1e;stroke-width:0.3px">AIR</text>
<text transform="translate(243.3 464.9) rotate(90)" font-size="9.8" textLength="43.7" lengthAdjust="spacingAndGlyphs" style="stroke:#1e1e1e;stroke-width:0.3px">ROTATION</text>
<text transform="translate(243.3 516.5) rotate(90)" font-size="9.8" textLength="29.8" lengthAdjust="spacingAndGlyphs" style="stroke:#1e1e1e;stroke-width:0.3px">SPEED</text>
<text transform="translate(243.3 560.3) rotate(90)" font-size="9.8" textLength="12" lengthAdjust="spacingAndGlyphs" style="stroke:#1e1e1e;stroke-width:0.3px">58</text>
<text transform="translate(243.3 578.6) rotate(90)" font-size="9.8" textLength="20.2" lengthAdjust="spacingAndGlyphs" style="stroke:#1e1e1e;stroke-width:0.3px">RPM</text>
<text transform="translate(243.3 613) rotate(90)" font-size="9.8" textLength="5.8" lengthAdjust="spacingAndGlyphs" style="stroke:#1e1e1e;stroke-width:0.3px">4</text>
<text transform="translate(243.3 626.3) rotate(90)" font-size="9.8" textLength="15.7" lengthAdjust="spacingAndGlyphs" style="stroke:#1e1e1e;stroke-width:0.3px">bar</text>
<text transform="translate(243.3 654.3) rotate(90)" font-size="9.8" textLength="16.5" lengthAdjust="spacingAndGlyphs" style="stroke:#1e1e1e;stroke-width:0.3px">306</text>
<text transform="translate(243.3 676) rotate(90)" font-size="9.8" textLength="32.4" lengthAdjust="spacingAndGlyphs" style="stroke:#1e1e1e;stroke-width:0.3px">L/min.</text>
<text transform="translate(243.3 719) rotate(90)" font-size="9.8" textLength="13" lengthAdjust="spacingAndGlyphs" style="stroke:#1e1e1e;stroke-width:0.3px">AIR</text>
<text transform="translate(259.55 464.9) rotate(90)" font-size="9.8" textLength="43.7" lengthAdjust="spacingAndGlyphs" style="stroke:#1e1e1e;stroke-width:0.3px">ROTATION</text>
<text transform="translate(259.55 516.5) rotate(90)" font-size="9.8" textLength="29.8" lengthAdjust="spacingAndGlyphs" style="stroke:#1e1e1e;stroke-width:0.3px">SPEED</text>
<text transform="translate(259.55 560.3) rotate(90)" font-size="9.8" textLength="12" lengthAdjust="spacingAndGlyphs" style="stroke:#1e1e1e;stroke-width:0.3px">51</text>
<text transform="translate(259.55 578.6) rotate(90)" font-size="9.8" textLength="20.2" lengthAdjust="spacingAndGlyphs" style="stroke:#1e1e1e;stroke-width:0.3px">RPM</text>
<text transform="translate(259.55 613) rotate(90)" font-size="9.8" textLength="5.8" lengthAdjust="spacingAndGlyphs" style="stroke:#1e1e1e;stroke-width:0.3px">3</text>
<text transform="translate(259.55 626.3) rotate(90)" font-size="9.8" textLength="15.7" lengthAdjust="spacingAndGlyphs" style="stroke:#1e1e1e;stroke-width:0.3px">bar</text>
<text transform="translate(259.55 654.3) rotate(90)" font-size="9.8" textLength="16.5" lengthAdjust="spacingAndGlyphs" style="stroke:#1e1e1e;stroke-width:0.3px">300</text>
<text transform="translate(259.55 676) rotate(90)" font-size="9.8" textLength="32.4" lengthAdjust="spacingAndGlyphs" style="stroke:#1e1e1e;stroke-width:0.3px">L/min.</text>
<text transform="translate(259.55 719) rotate(90)" font-size="9.8" textLength="13" lengthAdjust="spacingAndGlyphs" style="stroke:#1e1e1e;stroke-width:0.3px">AIR</text>
<text transform="translate(275.8 464.9) rotate(90)" font-size="9.8" textLength="43.7" lengthAdjust="spacingAndGlyphs" style="stroke:#1e1e1e;stroke-width:0.3px">ROTATION</text>
<text transform="translate(275.8 516.5) rotate(90)" font-size="9.8" textLength="29.8" lengthAdjust="spacingAndGlyphs" style="stroke:#1e1e1e;stroke-width:0.3px">SPEED</text>
<text transform="translate(275.8 560.3) rotate(90)" font-size="9.8" textLength="12" lengthAdjust="spacingAndGlyphs" style="stroke:#1e1e1e;stroke-width:0.3px">42</text>
<text transform="translate(275.8 578.6) rotate(90)" font-size="9.8" textLength="20.2" lengthAdjust="spacingAndGlyphs" style="stroke:#1e1e1e;stroke-width:0.3px">RPM</text>
<text transform="translate(275.8 613) rotate(90)" font-size="9.8" textLength="5.8" lengthAdjust="spacingAndGlyphs" style="stroke:#1e1e1e;stroke-width:0.3px">2</text>
<text transform="translate(275.8 626.3) rotate(90)" font-size="9.8" textLength="15.7" lengthAdjust="spacingAndGlyphs" style="stroke:#1e1e1e;stroke-width:0.3px">bar</text>
<text transform="translate(275.8 654.3) rotate(90)" font-size="9.8" textLength="16.5" lengthAdjust="spacingAndGlyphs" style="stroke:#1e1e1e;stroke-width:0.3px">288</text>
<text transform="translate(275.8 676) rotate(90)" font-size="9.8" textLength="32.4" lengthAdjust="spacingAndGlyphs" style="stroke:#1e1e1e;stroke-width:0.3px">L/min.</text>
<text transform="translate(275.8 719) rotate(90)" font-size="9.8" textLength="13" lengthAdjust="spacingAndGlyphs" style="stroke:#1e1e1e;stroke-width:0.3px">AIR</text>
<text transform="translate(292.05 464.9) rotate(90)" font-size="9.8" textLength="43.7" lengthAdjust="spacingAndGlyphs" style="stroke:#1e1e1e;stroke-width:0.3px">ROTATION</text>
<text transform="translate(292.05 516.5) rotate(90)" font-size="9.8" textLength="29.8" lengthAdjust="spacingAndGlyphs" style="stroke:#1e1e1e;stroke-width:0.3px">SPEED</text>
<text transform="translate(292.05 560.3) rotate(90)" font-size="9.8" textLength="12" lengthAdjust="spacingAndGlyphs" style="stroke:#1e1e1e;stroke-width:0.3px">29</text>
<text transform="translate(292.05 578.6) rotate(90)" font-size="9.8" textLength="20.2" lengthAdjust="spacingAndGlyphs" style="stroke:#1e1e1e;stroke-width:0.3px">RPM</text>
<text transform="translate(292.05 613) rotate(90)" font-size="9.8" textLength="5.8" lengthAdjust="spacingAndGlyphs" style="stroke:#1e1e1e;stroke-width:0.3px">1</text>
<text transform="translate(292.05 626.3) rotate(90)" font-size="9.8" textLength="15.7" lengthAdjust="spacingAndGlyphs" style="stroke:#1e1e1e;stroke-width:0.3px">bar</text>
<text transform="translate(292.05 654.3) rotate(90)" font-size="9.8" textLength="16.5" lengthAdjust="spacingAndGlyphs" style="stroke:#1e1e1e;stroke-width:0.3px">264</text>
<text transform="translate(292.05 676) rotate(90)" font-size="9.8" textLength="32.4" lengthAdjust="spacingAndGlyphs" style="stroke:#1e1e1e;stroke-width:0.3px">L/min.</text>
<text transform="translate(292.05 719) rotate(90)" font-size="9.8" textLength="13" lengthAdjust="spacingAndGlyphs" style="stroke:#1e1e1e;stroke-width:0.3px">AIR</text>
<rect x="206.2" y="752.7" width="306.17" height="338.9"/>
<path d="M224.21 752.7L224.21 1091.6"/>
<path d="M242.22 752.7L242.22 1091.6"/>
<path d="M260.23 752.7L260.23 1091.6"/>
<path d="M278.24 752.7L278.24 1091.6"/>
<path d="M296.25 752.7L296.25 1091.6"/>
<path d="M314.26 752.7L314.26 1091.6"/>
<path d="M332.27 752.7L332.27 1091.6"/>
<path d="M350.28 752.7L350.28 1091.6"/>
<path d="M368.29 752.7L368.29 1091.6"/>
<path d="M386.3 752.7L386.3 1091.6"/>
<path d="M404.31 752.7L404.31 1091.6"/>
<path d="M422.32 752.7L422.32 1091.6"/>
<path d="M440.33 752.7L440.33 1091.6"/>
<path d="M458.34 752.7L458.34 1091.6"/>
<path d="M476.35 752.7L476.35 1091.6"/>
<path d="M494.36 752.7L494.36 1091.6"/>
<path d="M206.2 895.2L512.37 895.2"/>
<rect x="517.7" y="752.7" width="17.9" height="338.9"/>
<text transform="translate(523.2 861.8) rotate(90)" font-size="9.8" word-spacing="5.72" textLength="77.5" lengthAdjust="spacingAndGlyphs" style="stroke:#1e1e1e;stroke-width:0.3px">TECHNICAL DATA</text>
<text transform="translate(211.7 759) rotate(90)" font-size="9.7" textLength="33" lengthAdjust="spacingAndGlyphs" style="stroke:#1e1e1e;stroke-width:0.3px">WEIGHT</text>
<text transform="translate(211.7 903.4) rotate(90)" font-size="9.7" word-spacing="5.92" textLength="32.5" lengthAdjust="spacingAndGlyphs" style="stroke:#1e1e1e;stroke-width:0.3px">7.9 KG</text>
<text transform="translate(229.71 759) rotate(90)" font-size="9.7" word-spacing="2.33" textLength="54" lengthAdjust="spacingAndGlyphs" style="stroke:#1e1e1e;stroke-width:0.3px">AIR EXAUST</text>
<text transform="translate(229.71 903.4) rotate(90)" font-size="9.7" word-spacing="4.96" textLength="179" lengthAdjust="spacingAndGlyphs" style="stroke:#1e1e1e;stroke-width:0.3px">FESTO SILENCER BP 415 ON MOTOR</text>
<text transform="translate(247.72 759) rotate(90)" font-size="9.7" word-spacing="1.7" textLength="51" lengthAdjust="spacingAndGlyphs" style="stroke:#1e1e1e;stroke-width:0.3px">AIR MOTOR</text>
<text transform="translate(247.72 903.4) rotate(90)" font-size="9.7" word-spacing="4.86" textLength="164" lengthAdjust="spacingAndGlyphs" style="stroke:#1e1e1e;stroke-width:0.3px">ATLAS COPCO ATEX BA 725 INOX</text>
<text transform="translate(265.73 759) rotate(90)" font-size="9.7" word-spacing="3.74" textLength="82.9" lengthAdjust="spacingAndGlyphs" style="stroke:#1e1e1e;stroke-width:0.3px">FULL CYCLE TIME</text>
<text transform="translate(265.73 903.4) rotate(90)" font-size="9.7" word-spacing="4.74" textLength="160" lengthAdjust="spacingAndGlyphs" style="stroke:#1e1e1e;stroke-width:0.3px">2 MIN. AT 3 BAR AIR PRESSURE</text>
<text transform="translate(283.74 759) rotate(90)" font-size="9.7" word-spacing="5.02" textLength="57.4" lengthAdjust="spacingAndGlyphs" style="stroke:#1e1e1e;stroke-width:0.3px">FULL CYCLE</text>
<text transform="translate(283.74 903.4) rotate(90)" font-size="9.7" word-spacing="3.82" textLength="66.5" lengthAdjust="spacingAndGlyphs" style="stroke:#1e1e1e;stroke-width:0.3px">95 ROTATIONS</text>
<text transform="translate(301.75 759) rotate(90)" font-size="9.7" textLength="37.2" lengthAdjust="spacingAndGlyphs" style="stroke:#1e1e1e;stroke-width:0.3px">MODULE</text>
<text transform="translate(301.75 903.4) rotate(90)" font-size="9.7" textLength="4" lengthAdjust="spacingAndGlyphs" style="stroke:#1e1e1e;stroke-width:0.3px">1</text>
<text transform="translate(319.76 759) rotate(90)" font-size="9.7" textLength="28.7" lengthAdjust="spacingAndGlyphs" style="stroke:#1e1e1e;stroke-width:0.3px">GEARS</text>
<text transform="translate(319.76 903.4) rotate(90)" font-size="9.7" word-spacing="7.79" textLength="139.4" lengthAdjust="spacingAndGlyphs" style="stroke:#1e1e1e;stroke-width:0.3px">FIXED Z=39 ROTATING Z=95</text>
<text transform="translate(337.77 759) rotate(90)" font-size="9.7" textLength="42.5" lengthAdjust="spacingAndGlyphs" style="stroke:#1e1e1e;stroke-width:0.3px">MATERIAL</text>
<text transform="translate(337.77 903.4) rotate(90)" font-size="9.7" word-spacing="5.69" textLength="67.5" lengthAdjust="spacingAndGlyphs" style="stroke:#1e1e1e;stroke-width:0.3px">INOX AISI 316</text>
<text transform="translate(355.78 759) rotate(90)" font-size="9.7" word-spacing="2.21" textLength="89.3" lengthAdjust="spacingAndGlyphs" style="stroke:#1e1e1e;stroke-width:0.3px">MAX TEMPERATURE</text>
<text transform="translate(355.78 903.4) rotate(90)" font-size="9.7" word-spacing="4.52" textLength="26" lengthAdjust="spacingAndGlyphs" style="stroke:#1e1e1e;stroke-width:0.3px">90 °C</text>
<text transform="translate(373.79 759) rotate(90)" font-size="9.7" word-spacing="5.16" textLength="128.4" lengthAdjust="spacingAndGlyphs" style="stroke:#1e1e1e;stroke-width:0.3px">MIN PASS THROUGH HOLE</text>
<text transform="translate(373.79 903.4) rotate(90)" font-size="9.7" word-spacing="6.19" textLength="129.5" lengthAdjust="spacingAndGlyphs" style="stroke:#1e1e1e;stroke-width:0.3px">120 mm ON CENTER LINE</text>
<text transform="translate(391.8 759) rotate(90)" font-size="9.7" word-spacing="4.16" textLength="130.7" lengthAdjust="spacingAndGlyphs" style="stroke:#1e1e1e;stroke-width:0.3px">MAX OPERATING PRESSURE</text>
<text transform="translate(391.8 903.4) rotate(90)" font-size="9.7" word-spacing="10.77" textLength="39.3" lengthAdjust="spacingAndGlyphs" style="stroke:#1e1e1e;stroke-width:0.3px">500 bar</text>
<text transform="translate(409.81 759) rotate(90)" font-size="9.7" word-spacing="3.33" textLength="106.4" lengthAdjust="spacingAndGlyphs" style="stroke:#1e1e1e;stroke-width:0.3px">MAX OPERATING FLOW</text>
<text transform="translate(409.81 903.4) rotate(90)" font-size="9.7" word-spacing="11.64" textLength="45" lengthAdjust="spacingAndGlyphs" style="stroke:#1e1e1e;stroke-width:0.3px">60 L/min</text>
<text transform="translate(427.82 759) rotate(90)" font-size="9.7" word-spacing="6.79" textLength="68.2" lengthAdjust="spacingAndGlyphs" style="stroke:#1e1e1e;stroke-width:0.3px">NOZZLES SIZE</text>
<text transform="translate(427.82 903.4) rotate(90)" font-size="9.7" textLength="40.5" lengthAdjust="spacingAndGlyphs" style="stroke:#1e1e1e;stroke-width:0.3px">1/4"NPT</text>
<text transform="translate(445.83 759) rotate(90)" font-size="9.7" word-spacing="6.42" textLength="96" lengthAdjust="spacingAndGlyphs" style="stroke:#1e1e1e;stroke-width:0.3px">NOZZLES POSITIONS</text>
<text transform="translate(445.83 903.4) rotate(90)" font-size="9.7" word-spacing="8.52" textLength="32.8" lengthAdjust="spacingAndGlyphs" style="stroke:#1e1e1e;stroke-width:0.3px">2 - 4</text>
<text transform="translate(463.84 759) rotate(90)" font-size="9.7" textLength="39.8" lengthAdjust="spacingAndGlyphs" style="stroke:#1e1e1e;stroke-width:0.3px">BUSHING</text>
<text transform="translate(463.84 903.4) rotate(90)" font-size="9.7" word-spacing="6.46" textLength="39.3" lengthAdjust="spacingAndGlyphs" style="stroke:#1e1e1e;stroke-width:0.3px">AISI 316</text>
<text transform="translate(481.85 759) rotate(90)" font-size="9.7" textLength="37.5" lengthAdjust="spacingAndGlyphs" style="stroke:#1e1e1e;stroke-width:0.3px">SLIPPER</text>
<text transform="translate(481.85 903.4) rotate(90)" font-size="9.7" word-spacing="7.34" textLength="99.5" lengthAdjust="spacingAndGlyphs" style="stroke:#1e1e1e;stroke-width:0.3px">PTFE+CARBON FIBER</text>
<text transform="translate(499.86 759) rotate(90)" font-size="9.7" textLength="30" lengthAdjust="spacingAndGlyphs" style="stroke:#1e1e1e;stroke-width:0.3px">O.RING</text>
<text transform="translate(499.86 903.4) rotate(90)" font-size="9.7" textLength="18" lengthAdjust="spacingAndGlyphs" style="stroke:#1e1e1e;stroke-width:0.3px">NBR</text>
</g>
<g stroke="#484848">
<rect x="21.4" y="524.3" width="173.6" height="573.9"/>
<path d="M21.4 606.1L195 606.1"/>
<path d="M21.4 932.5L195 932.5"/>
<path d="M56.25 524.3L56.25 606.1"/>
<path d="M91.25 524.3L91.25 606.1"/>
<path d="M126.5 524.3L126.5 606.1"/>
<path d="M160.75 524.3L160.75 606.1"/>
<text transform="translate(179.6 536.7) rotate(90)" font-size="10.8" textLength="57.5" lengthAdjust="spacingAndGlyphs" style="stroke:#1e1e1e;stroke-width:0.3px">RUGOSITA'</text>
<text transform="translate(166 534) rotate(90)" font-size="10.8" word-spacing="7.18" textLength="60" lengthAdjust="spacingAndGlyphs" style="stroke:#1e1e1e;stroke-width:0.3px">(UNI 4600)</text>
<text transform="translate(150 530) rotate(90)" font-size="10.8" textLength="41" lengthAdjust="spacingAndGlyphs" style="stroke:#1e1e1e;stroke-width:0.3px">GREZZO</text>
<text transform="translate(115 530) rotate(90)" font-size="10.8" textLength="44" lengthAdjust="spacingAndGlyphs" style="stroke:#1e1e1e;stroke-width:0.3px">SGROSS.</text>
<text transform="translate(81 530.5) rotate(90)" font-size="10.8" textLength="45" lengthAdjust="spacingAndGlyphs" style="stroke:#1e1e1e;stroke-width:0.3px">FINITURA</text>
<text transform="translate(46 530.5) rotate(90)" font-size="10.8" textLength="49.5" lengthAdjust="spacingAndGlyphs" style="stroke:#1e1e1e;stroke-width:0.3px">RETTIFICA</text>
<path d="M133.1 536.3C135.5 534.8 139.5 537.5 137.3 542C135.5 545.5 130.3 547.8 131.4 551.2C132.3 554 135 554.8 136.2 553.6" stroke-width="1.24"/>
<path d="M132.8 567.7L132.8 572" stroke-width="1.66"/>
<path d="M135.1 567.7L135.1 572" stroke-width="1.66"/>
<path d="M98.3 567.7L98.3 572" stroke-width="1.24"/>
<path d="M100.6 567.7L100.6 572" stroke-width="1.24"/>
<path d="M63.3 567.7L63.3 572" stroke-width="1.24"/>
<path d="M65.6 567.7L65.6 572" stroke-width="1.24"/>
<path d="M27.8 567.7L27.8 572" stroke-width="1.24"/>
<path d="M30.1 567.7L30.1 572" stroke-width="1.24"/>
<path d="M135.8 594.2L135.8 586.8L129.8 590.6L147.1 600.9" stroke-width="1.24"/>
<circle cx="138" cy="591" r="2.6" stroke-width="1.24"/>
<path d="M95.6 545.2L104.2 540.5L104.2 549.9Z" stroke-width="1.24"/>
<path d="M101.2 594.7L101.2 587.3L95.2 591.1L112.5 601.4" stroke-width="1.24"/>
<text transform="translate(105.6 581.2) rotate(90)" font-size="8.8" textLength="13.3" lengthAdjust="spacingAndGlyphs" style="stroke:#1e1e1e;stroke-width:0.3px">3.2</text>
<path d="M61.2 540.3L69.8 535.6L69.8 545Z" stroke-width="1.24"/>
<path d="M61.2 549.7L69.8 545L69.8 554.4Z" stroke-width="1.24"/>
<path d="M66.2 594.7L66.2 587.3L60.2 591.1L77.5 601.4" stroke-width="1.24"/>
<text transform="translate(70.4 581.2) rotate(90)" font-size="8.8" textLength="13" lengthAdjust="spacingAndGlyphs" style="stroke:#1e1e1e;stroke-width:0.3px">1.6</text>
<path d="M25 535.3L33.6 530.6L33.6 540Z" stroke-width="1.24"/>
<path d="M25 544.9L33.6 540.2L33.6 549.6Z" stroke-width="1.24"/>
<path d="M25 554.5L33.6 549.8L33.6 559.2Z" stroke-width="1.24"/>
<path d="M30.7 594.7L30.7 587.3L24.7 591.1L42 601.4" stroke-width="1.24"/>
<text transform="translate(34.8 580.6) rotate(90)" font-size="8.8" textLength="14.3" lengthAdjust="spacingAndGlyphs" style="stroke:#1e1e1e;stroke-width:0.3px">0.8</text>
<path d="M54.6 606.1L54.6 1098.2"/>
<path d="M113.1 606.1L113.1 1098.2"/>
<path d="M86.7 606.1L86.7 1065"/>
<path d="M126.7 606.1L126.7 932.5"/>
<path d="M140 606.1L140 932.5"/>
<path d="M153.4 606.1L153.4 932.5"/>
<path d="M167.4 606.1L167.4 932.5"/>
<path d="M181.1 606.1L181.1 932.5"/>
<path d="M153.4 661.3L195 661.3"/>
<path d="M153.4 716.2L195 716.2"/>
<path d="M153.4 770L195 770"/>
<path d="M153.4 824.5L195 824.5"/>
<path d="M153.4 878.8L195 878.8"/>
<text transform="translate(185 611.8) rotate(90)" font-size="10" textLength="46" lengthAdjust="spacingAndGlyphs" style="stroke:#1e1e1e;stroke-width:0.3px">MODIFICA</text>
<text transform="translate(171 616.9) rotate(90)" font-size="10" textLength="34.3" lengthAdjust="spacingAndGlyphs" style="stroke:#1e1e1e;stroke-width:0.3px">FOGLIO</text>
<text transform="translate(157.2 620.8) rotate(90)" font-size="10" textLength="22.5" lengthAdjust="spacingAndGlyphs" style="stroke:#1e1e1e;stroke-width:0.3px">DATA</text>
<text transform="translate(157.2 666.4) rotate(90)" font-size="10" textLength="44" lengthAdjust="spacingAndGlyphs" style="stroke:#1e1e1e;stroke-width:0.3px">XX.XX.XX</text>
<text transform="translate(171 674.2) rotate(90)" font-size="10" textLength="28" lengthAdjust="spacingAndGlyphs" style="stroke:#1e1e1e;stroke-width:0.3px">XXXX</text>
<text transform="translate(184.3 686.3) rotate(90)" font-size="10.5" style="stroke:#1e1e1e;stroke-width:0.3px">1</text>
<text transform="translate(184.3 741) rotate(90)" font-size="10.5" style="stroke:#1e1e1e;stroke-width:0.3px">2</text>
<text transform="translate(184.3 795.5) rotate(90)" font-size="10.5" style="stroke:#1e1e1e;stroke-width:0.3px">3</text>
<text transform="translate(184.3 849.5) rotate(90)" font-size="10.5" style="stroke:#1e1e1e;stroke-width:0.3px">4</text>
<text transform="translate(184.3 903) rotate(90)" font-size="10.5" style="stroke:#1e1e1e;stroke-width:0.3px">5</text>
<path d="M113.1 648.4L140 648.4"/>
<path d="M113.1 690.5L140 690.5"/>
<path d="M113.1 742.5L140 742.5"/>
<path d="M113.1 797.5L140 797.5"/>
<path d="M113.1 860L140 860"/>
<text transform="translate(142.8 620.8) rotate(90)" font-size="11.6" textLength="74.7" lengthAdjust="spacingAndGlyphs" style="stroke:#1e1e1e;stroke-width:0.3px">TOLLERANZE</text>
<text transform="translate(142.8 698.8) rotate(90)" font-size="11.6" textLength="48.7" lengthAdjust="spacingAndGlyphs" style="stroke:#1e1e1e;stroke-width:0.3px">GENERALI</text>
<text transform="translate(142.8 755) rotate(90)" font-size="11.6" textLength="36.2" lengthAdjust="spacingAndGlyphs" style="stroke:#1e1e1e;stroke-width:0.3px">classe</text>
<text transform="translate(142.8 805) rotate(90)" font-size="11.6" textLength="7.5" lengthAdjust="spacingAndGlyphs" style="stroke:#1e1e1e;stroke-width:0.3px">m</text>
<text transform="translate(142.8 820) rotate(90)" font-size="11.6" textLength="41.2" lengthAdjust="spacingAndGlyphs" style="stroke:#1e1e1e;stroke-width:0.3px">UNI–EN</text>
<text transform="translate(142.8 871.2) rotate(90)" font-size="11.6" textLength="47.6" lengthAdjust="spacingAndGlyphs" style="stroke:#1e1e1e;stroke-width:0.3px">22768/1</text>
<text transform="translate(129.4 613.5) rotate(90)" font-size="10.8" textLength="22.5" lengthAdjust="spacingAndGlyphs" style="stroke:#1e1e1e;stroke-width:0.3px">0÷6</text>
<text transform="translate(129.4 655) rotate(90)" font-size="10.8" textLength="29.5" lengthAdjust="spacingAndGlyphs" style="stroke:#1e1e1e;stroke-width:0.3px">6÷30</text>
<text transform="translate(129.4 695) rotate(90)" font-size="10.8" textLength="45" lengthAdjust="spacingAndGlyphs" style="stroke:#1e1e1e;stroke-width:0.3px">30÷120</text>
<text transform="translate(129.4 745.5) rotate(90)" font-size="10.8" textLength="49.5" lengthAdjust="spacingAndGlyphs" style="stroke:#1e1e1e;stroke-width:0.3px">120÷400</text>
<text transform="translate(129.4 800) rotate(90)" font-size="10.8" textLength="57.5" lengthAdjust="spacingAndGlyphs" style="stroke:#1e1e1e;stroke-width:0.3px">400÷1000</text>
<text transform="translate(129.4 863.8) rotate(90)" font-size="10.8" textLength="65" lengthAdjust="spacingAndGlyphs" style="stroke:#1e1e1e;stroke-width:0.3px">1000÷2000</text>
<text transform="translate(115.6 613.5) rotate(90)" font-size="11.2" textLength="29.5" lengthAdjust="spacingAndGlyphs" style="stroke:#1e1e1e;stroke-width:0.3px">±0.1</text>
<text transform="translate(115.6 655) rotate(90)" font-size="11.2" textLength="29.5" lengthAdjust="spacingAndGlyphs" style="stroke:#1e1e1e;stroke-width:0.3px">±0.2</text>
<text transform="translate(115.6 701) rotate(90)" font-size="11.2" textLength="29.5" lengthAdjust="spacingAndGlyphs" style="stroke:#1e1e1e;stroke-width:0.3px">±0.3</text>
<text transform="translate(115.6 755) rotate(90)" font-size="11.2" textLength="29.5" lengthAdjust="spacingAndGlyphs" style="stroke:#1e1e1e;stroke-width:0.3px">±0.5</text>
<text transform="translate(115.6 815) rotate(90)" font-size="11.2" textLength="29.5" lengthAdjust="spacingAndGlyphs" style="stroke:#1e1e1e;stroke-width:0.3px">±0.8</text>
<text transform="translate(115.6 881) rotate(90)" font-size="11.2" textLength="29.5" lengthAdjust="spacingAndGlyphs" style="stroke:#1e1e1e;stroke-width:0.3px">±1.2</text>
<text transform="translate(101.6 610) rotate(90)" font-size="11" textLength="30" lengthAdjust="spacingAndGlyphs" style="stroke:#1e1e1e;stroke-width:0.3px">NOTE:</text>
<text transform="translate(71.8 610) rotate(90)" font-size="11" textLength="65" lengthAdjust="spacingAndGlyphs" style="stroke:#1e1e1e;stroke-width:0.3px">MATERIALE:</text>
<text transform="translate(40 610) rotate(90)" font-size="11.6" textLength="71" lengthAdjust="spacingAndGlyphs" style="stroke:#1e1e1e;stroke-width:0.3px">DESCRIZIONE:</text>
<text transform="translate(40 698.8) rotate(90)" font-size="11.6" word-spacing="6.25" textLength="98.7" lengthAdjust="spacingAndGlyphs" style="stroke:#1e1e1e;stroke-width:0.3px">XB 586 PPF 01</text>
<text transform="translate(25.3 698.8) rotate(90)" font-size="11.6" word-spacing="4.21" textLength="138.7" lengthAdjust="spacingAndGlyphs" style="stroke:#1e1e1e;stroke-width:0.3px">INSTALLATION DRAWING</text>
<text transform="translate(44.3 936) rotate(90)" font-size="8.6" textLength="32.7" lengthAdjust="spacingAndGlyphs" style="stroke:#1e1e1e;stroke-width:0.3px">CODICE:</text>
<text transform="translate(27.6 936) rotate(90)" font-size="14.5" word-spacing="8.14" textLength="159" lengthAdjust="spacingAndGlyphs">XB 586 PPF 01 cm</text>
<text transform="translate(77.3 936) rotate(90)" font-size="8.2" textLength="24" lengthAdjust="spacingAndGlyphs" style="stroke:#1e1e1e;stroke-width:0.3px">SCALA</text>
<text transform="translate(60.6 970) rotate(90)" font-size="18.5" textLength="26" lengthAdjust="spacingAndGlyphs" style="fill:#000;stroke:#fff;stroke-width:0.4px">1:4</text>
<path d="M54.6 1013.8L86.7 1013.8"/>
<text transform="translate(59 1020) rotate(90)" font-size="28" textLength="37.5" lengthAdjust="spacingAndGlyphs" style="fill:#000;stroke:#fff;stroke-width:0.95px">A4</text>
<path d="M54.6 1065L98.8 1065"/>
<text transform="translate(59 1071.5) rotate(90)" font-size="28" textLength="20" lengthAdjust="spacingAndGlyphs" style="fill:#000;stroke:#fff;stroke-width:0.95px">O</text>
<path d="M98.8 932.5L98.8 1098.2"/>
<text transform="translate(89.8 936) rotate(90)" font-size="10.6" word-spacing="12.72" textLength="94" lengthAdjust="spacingAndGlyphs" style="stroke:#1e1e1e;stroke-width:0.3px">DATA: 04.12.09</text>
<text transform="translate(89.8 1068.8) rotate(90)" font-size="10.6" textLength="26.2" lengthAdjust="spacingAndGlyphs" style="stroke:#1e1e1e;stroke-width:0.3px">MOD.</text>
<text transform="translate(102.2 936) rotate(90)" font-size="10.6" word-spacing="12.72" textLength="74" lengthAdjust="spacingAndGlyphs" style="stroke:#1e1e1e;stroke-width:0.3px">DISEGN.: CR</text>
<path d="M98.8 1015L113.1 1015"/>
<text transform="translate(102.2 1018.8) rotate(90)" font-size="10.6" word-spacing="12.72" textLength="75" lengthAdjust="spacingAndGlyphs" style="stroke:#1e1e1e;stroke-width:0.3px">CONTR.: DM</text>
<text transform="translate(120.3 940.6) rotate(90)" font-size="9.6" word-spacing="6.05" textLength="153.2" lengthAdjust="spacingAndGlyphs" style="stroke:#1e1e1e;stroke-width:0.3px">MONTECCHIO E. (RE) – ITALY</text>
<text transform="translate(135.3 988.8) rotate(90)" font-size="12.4" word-spacing="9.28" textLength="102.2" lengthAdjust="spacingAndGlyphs" style="stroke:#1e1e1e;stroke-width:0.3px">CLEANING HEADS</text>
<path d="M141.96 937.95 L161.84 947.23 L163.16 937.29 L167.8 954.51 L175.75 947.89 C186.35 953.85 192.31 963.13 191.65 973.73 C190.99 985.65 182.38 993.6 171.78 991.61 C169.13 990.95 167.54 988.3 166.74 983.66 C163.83 983 159.85 983 155.88 982.34 C143.95 973.73 141.3 956.5 141.96 937.95 Z" stroke-width="1.1" fill="#fff" stroke="#3a3a3a"/>
<path d="M167.8 954.51 C175.75 952.53 185.69 960.48 185.03 971.08 C184.36 980.35 175.75 985.65 167.14 975.71 C165.15 969.75 164.09 963.13 163.16 956.5 " stroke-width="1.1" stroke="#3a3a3a"/>
<path d="M166.74 983.66 C167.27 980.35 167.27 977.7 167.14 975.71 " stroke-width="1.1" stroke="#3a3a3a"/>
<path d="M149.91 946.56 L160.51 951.86 C161.18 959.15 159.19 967.1 155.88 969.75 C151.9 964.45 149.91 955.18 149.91 946.56 Z" stroke-width="1.1" stroke="#3a3a3a"/>
<path d="M152.56 963.13 L160.51 953.85 " stroke-width="1.1" stroke="#3a3a3a"/>
<path d="M163.16 956.5 C167.8 958.49 171.78 957.16 175.75 955.18 C176.41 960.48 175.75 967.1 174.43 971.08 C169.13 968.43 165.15 963.13 163.16 956.5 Z" stroke-width="1.1" stroke="#3a3a3a"/>
<g transform="translate(150.8 986.8) rotate(90)"><text transform="translate(0 0) scale(1.17 1)" font-size="24.5" font-style="italic" font-weight="bold" style="fill:#3a3a3a;stroke:#3a3a3a;stroke-width:3.6px;stroke-linejoin:round">o</text><text transform="translate(0 0) scale(1.17 1)" font-size="24.5" font-style="italic" font-weight="bold" style="fill:#fff;stroke:#fff;stroke-width:1.4px;stroke-linejoin:round">o</text><text transform="translate(17.81 0) scale(1.17 1)" font-size="24.5" font-style="italic" font-weight="bold" style="fill:#3a3a3a;stroke:#3a3a3a;stroke-width:3.6px;stroke-linejoin:round">l</text><text transform="translate(17.81 0) scale(1.17 1)" font-size="24.5" font-style="italic" font-weight="bold" style="fill:#fff;stroke:#fff;stroke-width:1.4px;stroke-linejoin:round">l</text><text transform="translate(26.07 0) scale(1.17 1)" font-size="24.5" font-style="italic" font-weight="bold" style="fill:#3a3a3a;stroke:#3a3a3a;stroke-width:3.6px;stroke-linejoin:round">o</text><text transform="translate(26.07 0) scale(1.17 1)" font-size="24.5" font-style="italic" font-weight="bold" style="fill:#fff;stroke:#fff;stroke-width:1.4px;stroke-linejoin:round">o</text><text transform="translate(43.88 0) scale(1.17 1)" font-size="24.5" font-style="italic" font-weight="bold" style="fill:#3a3a3a;stroke:#3a3a3a;stroke-width:3.6px;stroke-linejoin:round">n</text><text transform="translate(43.88 0) scale(1.17 1)" font-size="24.5" font-style="italic" font-weight="bold" style="fill:#fff;stroke:#fff;stroke-width:1.4px;stroke-linejoin:round">n</text><text transform="translate(61.69 0) scale(1.17 1)" font-size="24.5" font-style="italic" font-weight="bold" style="fill:#3a3a3a;stroke:#3a3a3a;stroke-width:3.6px;stroke-linejoin:round">d</text><text transform="translate(61.69 0) scale(1.17 1)" font-size="24.5" font-style="italic" font-weight="bold" style="fill:#fff;stroke:#fff;stroke-width:1.4px;stroke-linejoin:round">d</text><text transform="translate(79.5 0) scale(1.17 1)" font-size="24.5" font-style="italic" font-weight="bold" style="fill:#3a3a3a;stroke:#3a3a3a;stroke-width:3.6px;stroke-linejoin:round">i</text><text transform="translate(79.5 0) scale(1.17 1)" font-size="24.5" font-style="italic" font-weight="bold" style="fill:#fff;stroke:#fff;stroke-width:1.4px;stroke-linejoin:round">i</text></g>
</g>
<text x="274" y="554.3" font-size="18" font-weight="bold" textLength="252" lengthAdjust="spacingAndGlyphs" style="font-family:'Liberation Sans','Noto Sans CJK SC',sans-serif;fill:#000;stroke:none">北京德诺伊 denoy-fluid.com</text>
</svg>
</body></html>
